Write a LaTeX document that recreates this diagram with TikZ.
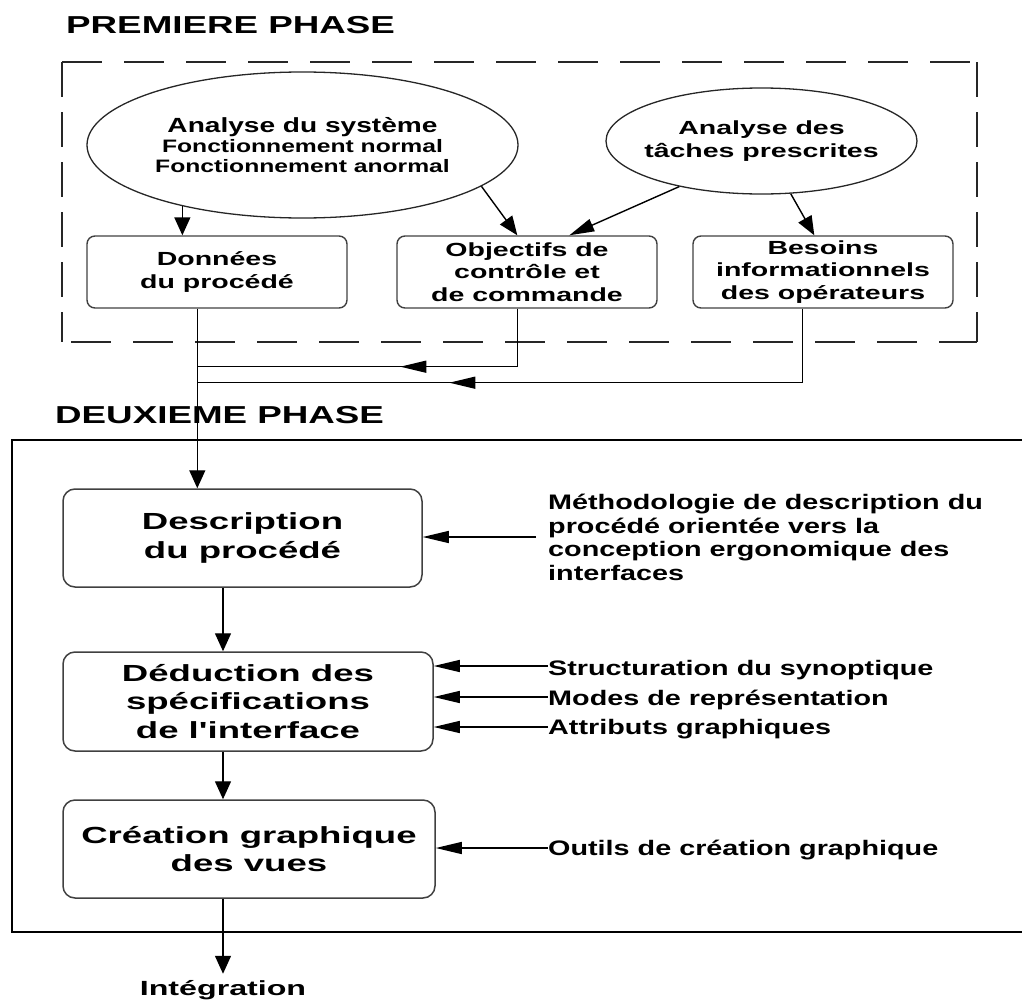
\documentclass[tikz,border=0pt]{standalone}
\usepackage{fontspec}
\setmainfont{Liberation Sans}
\newfontfamily\fA{Liberation Sans}[FakeStretch=1.37]
\newfontfamily\fB{Liberation Sans}[FakeStretch=1.5]
\newfontfamily\fC{Liberation Sans}[FakeStretch=1.57]
\usetikzlibrary{shapes.geometric,arrows.meta,calc,decorations.markings}

\begin{document}
\begin{tikzpicture}[x=1pt,y=-1pt,
  conn/.style={line width=1.4pt, draw=black},
  varrow/.style={-{Triangle[length=18pt,width=16pt]}},
  harrow/.style={-{Triangle[length=26pt,width=12pt]}},
  darrow/.style={-{Triangle[length=19pt,width=15pt]}},
  farrow/.style={-{Triangle[length=25pt,width=13pt]}},
  midarrow/.style={postaction={decorate},
    decoration={markings, mark=at position #1 with {\arrow{Triangle[length=26pt,width=12pt]}}}},
  dashline/.style={line width=1.6pt, draw=black!85},
  title/.style={inner sep=0pt, font=\fB\bfseries\fontsize{24.5}{28}\selectfont},
  ellip/.style={ellipse, draw=black!85, line width=1.3pt, align=center, inner sep=0pt},
  boxA/.style={draw=black!75, line width=1.4pt, rounded corners=8pt,
    minimum width=260pt, minimum height=72pt, inner sep=0pt, align=center,
    font=\fB\bfseries\fontsize{19}{22.5}\selectfont},
  boxC/.style={draw=black!75, line width=1.5pt, rounded corners=12pt,
    minimum height=98pt, inner sep=0pt, align=center,
    font=\fC\bfseries\fontsize{23.3}{28.5}\selectfont},
  rtext/.style={inner sep=0pt, align=left, anchor=base west,
    font=\fA\bfseries\fontsize{21}{23.4}\selectfont}
]
\useasboundingbox (0,0) rectangle (1022,1001);

% ---- first phase frame (dashed) ----
\draw[dashline, dash pattern=on 40pt off 22pt] (62,62) -- (977,62);
\draw[dashline, dash pattern=on 40pt off 22pt, dash phase=53pt] (62,342) -- (977,342);
\draw[dashline, dash pattern=on 35pt off 15pt] (62,62) -- (62,342);
\draw[dashline, dash pattern=on 35pt off 15pt] (977,62) -- (977,342);

% ---- second phase frame (solid, open on the right) ----
\draw[line width=2.5pt] (1022,440) -- (12,440) -- (12,932) -- (1022,932);

% ---- titles ----
\node[title, anchor=base west] (t1) at (66,33) {PREMIERE PHASE};
\node[title, anchor=base west] (t2) at (55,423) {DEUXIEME PHASE};

% ---- first phase ----
\node[ellip, minimum width=431pt, minimum height=146pt,
      font=\fA\bfseries\fontsize{18}{20}\selectfont] (e1) at (302.5,145)
  {{\fontsize{20.5}{20}\selectfont Analyse du système}\\Fonctionnement normal\\Fonctionnement anormal};
\node[ellip, minimum width=311pt, minimum height=106pt, inner xsep=-30pt,
      font=\fB\bfseries\fontsize{19}{23}\selectfont] (e2) at (761.5,141)
  {Analyse des\\tâches prescrites};

\node[boxA] (dn) at (217,272) {Données\\du procédé};
\node[boxA] (ob) at (527,272) {Objectifs de\\contrôle et\\de commande};
\node[boxA] (bs) at (823,272) {Besoins\\informationnels\\des opérateurs};

\draw[conn, varrow] (e1.207) -- (e1.207 |- dn.north);
\draw[conn, darrow] (e1.-13) -- ($(ob.north west)+(121,0)$);
\draw[conn, farrow] (e2.209) -- ($(ob.north west)+(173,0)$);
\draw[conn, darrow] (e2.-61) -- ($(bs.north west)+(122,0)$);

% ---- second phase ----
\node[boxC, minimum width=359pt] (desc) at (242.5,538) {Description\\du procédé};
\node[boxC, minimum width=370pt, minimum height=99pt] (ded) at (248,701.5)
  {Déduction des\\spécifications\\de l'interface};
\node[boxC, minimum width=372pt] (cr) at (249,849) {Création graphique\\des vues};
\node[inner sep=0pt, anchor=base, font=\fC\bfseries\fontsize{20.5}{24}\selectfont]
  (int) at (223,995) {Intégration};

% flows from the first phase into the description
\coordinate (dno) at ($(dn.south west)+(111,0)$);
\coordinate (obo) at ($(ob.south west)+(121,0)$);
\coordinate (bso) at ($(bs.south west)+(110,0)$);
\draw[conn, varrow] (dno) -- (dno |- desc.north);
\draw[conn] (obo) -- ++(0,58) coordinate (obk);
\draw[conn, midarrow=117pt] (obk) -- (obk -| dno);
\draw[conn] (bso) -- ++(0,74) coordinate (bsk);
\draw[conn, midarrow=353pt] (bsk) -- (bsk -| dno);

% main chain
\draw[conn, varrow] (desc.south -| int.base) -- (ded.north -| int.base);
\draw[conn, varrow] (ded.south -| int.base) -- (cr.north -| int.base);
\draw[conn, varrow] (cr.south -| int.base) -- ([yshift=6pt]int.north);

% side inputs
\node[rtext] (m1) at (548,580)
  {Méthodologie de description du\\procédé orientée vers la\\conception ergonomique des\\interfaces};
\coordinate (m1in) at (536,537);
\draw[conn, harrow] (m1in) -- (m1in -| desc.east);

\node[rtext] (s1) at (548,675) {Structuration du synoptique};
\node[rtext] (s2) at (548,705) {Modes de représentation};
\node[rtext] (s3) at (548,734) {Attributs graphiques};
\node[rtext] (s4) at (548,855) {Outils de création graphique};
\coordinate (s1in) at ([yshift=9pt]s1.base west);
\coordinate (s2in) at ([yshift=8pt]s2.base west);
\coordinate (s3in) at ([yshift=7pt]s3.base west);
\coordinate (s4in) at ([yshift=7pt]s4.base west);
\draw[conn, harrow] (s1in) -- (s1in -| ded.east);
\draw[conn, harrow] (s2in) -- (s2in -| ded.east);
\draw[conn, harrow] (s3in) -- (s3in -| ded.east);
\draw[conn, harrow] (s4in) -- (s4in -| cr.east);
\end{tikzpicture}
\end{document}
